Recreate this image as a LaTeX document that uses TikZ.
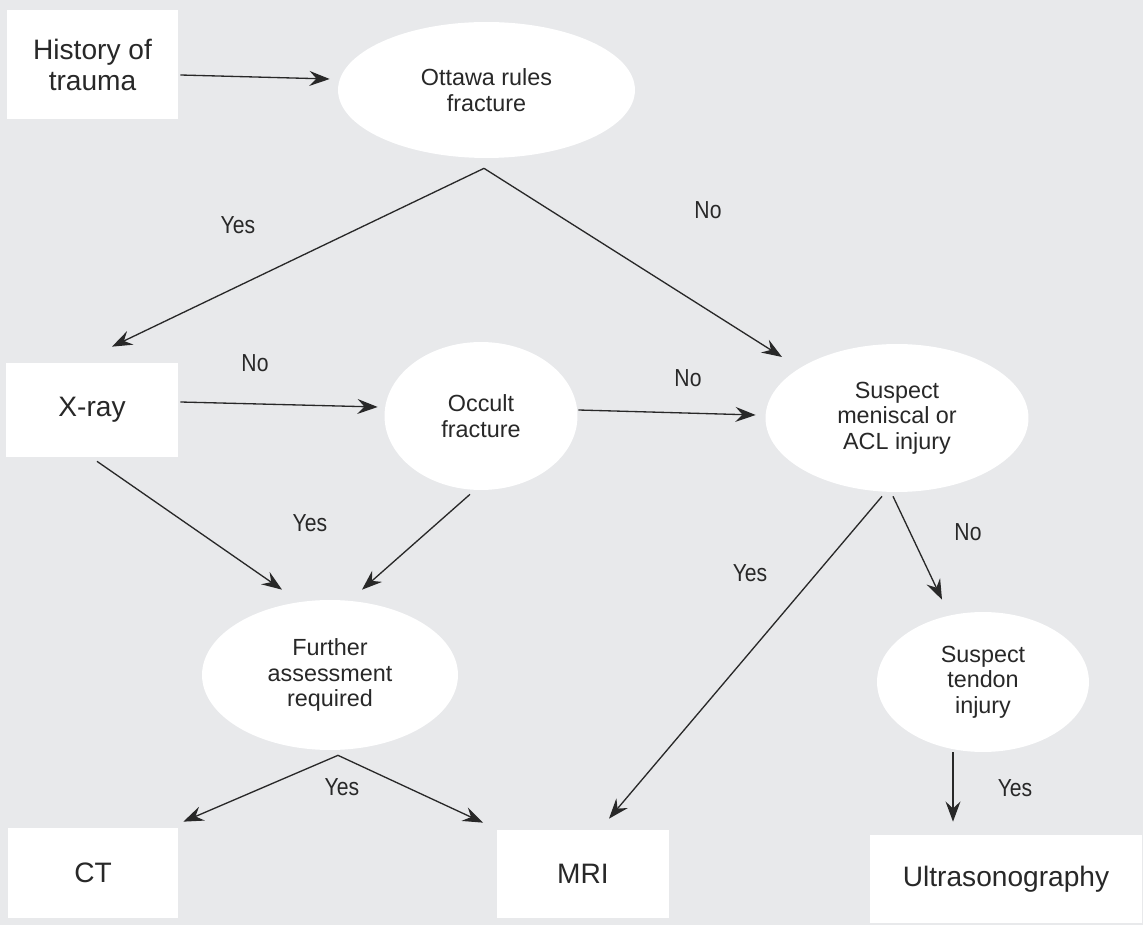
\documentclass[tikz,border=0pt]{standalone}
\usepackage{fontspec}
\setmainfont{Liberation Sans}
\newfontfamily\narrowfont[FakeStretch=0.86]{Liberation Sans}
\usepackage{xcolor}
\usepackage{tikz}
\usetikzlibrary{shapes.geometric,arrows.meta,positioning,calc}
\definecolor{panelgray}{RGB}{232,233,235}
\definecolor{inkgray}{RGB}{40,40,40}
\tikzset{
  stepbox/.style={rectangle, fill=white, minimum width=3.44cm, inner sep=0pt, align=center, text=inkgray, font=\fontsize{16}{17.6}\selectfont},
  question/.style={ellipse, fill=white, inner sep=0pt, align=center, text=inkgray, font=\fontsize{13.3}{14.5}\selectfont},
  answer/.style={text=inkgray, inner sep=0pt, font=\narrowfont\fontsize{14}{16}\selectfont},
  arrow/.style={-{Stealth[length=11.5pt, width=8.5pt, inset=4pt]}, draw=inkgray, line width=0.75pt},
}

\begin{document}
\begin{tikzpicture}[x=0.02cm, y=-0.02cm]
  % Background panel
  \fill[panelgray] (0,0) rectangle (1143,925);
  \useasboundingbox (0,0) rectangle (1143,925);

  % Rectangular steps
  \node[stepbox, minimum height=2.18cm] (hist) at (92.5,64.5) {History of\\trauma};
  \node[stepbox, minimum height=1.88cm] (xray) at (92,410) {X-ray};
  \node[stepbox, minimum width=3.4cm, minimum height=1.8cm] (ct) at (93,873) {CT};
  \node[stepbox, minimum height=1.78cm] (mri) at (583,874) {MRI};
  \node[stepbox, minimum width=5.44cm, minimum height=1.76cm] (us) at (1006,879) {Ultrasonography};

  % Questions
  \node[question, minimum width=5.94cm, minimum height=2.72cm] (ott) at (486.5,90) {Ottawa rules\\fracture};
  \node[question, minimum width=3.86cm, minimum height=2.96cm] (occ) at (481,416) {Occult\\fracture};
  \node[question, minimum width=5.26cm, minimum height=2.96cm] (susp) at (897,418) {Suspect\\meniscal or\\ACL injury};
  \node[question, minimum width=5.12cm, minimum height=3cm] (fur) at (330,675) {Further\\assessment\\required};
  \node[question, minimum width=4.24cm, minimum height=2.8cm] (tend) at (983,682) {Suspect\\tendon\\injury};

  % Connectors
  \draw[arrow] ($(hist.east)+(1.5,10.5)$) -- ($(ott.west)+(-8,-11)$);
  \draw[arrow] ($(ott.south)+(-2.5,10)$) -- ($(xray.north)+(20,-16)$);
  \draw[arrow] ($(ott.south)+(-2.5,10)$) -- ($(susp.center)+(-115,-61)$);
  \draw[arrow] ($(xray.east)+(2,-8)$) -- ($(occ.west)+(-6.5,-9)$);
  \draw[arrow] ($(occ.east)+(0.5,-6)$) -- ($(susp.west)+(-9.5,-3)$);
  \draw[arrow] ($(xray.south)+(5,4)$) -- ($(fur.north)+(-48,-10)$);
  \draw[arrow] ($(occ.south)+(-11,4)$) -- ($(fur.north)+(32,-10)$);
  \draw[arrow] ($(susp.south)+(-15,4)$) -- ($(mri.north)+(26,-10.5)$);
  \draw[arrow] ($(susp.south)+(-4,4)$) -- ($(tend.north)+(-41,-12)$);
  \draw[arrow] ($(fur.south)+(8,5)$) -- ($(ct.north east)+(5,-6)$);
  \draw[arrow] ($(fur.south)+(8,5)$) -- ($(mri.north)+(-100,-6.5)$);
  \draw[arrow] ($(tend.south)+(-30,0)$) -- ($(us.north)+(-53,-13)$);

  % Answers
  \node[answer] (yesott) at (238,225) {Yes};
  \node[answer] (noott) at (708,210) {No};
  \node[answer] (noxray) at (255,363) {No};
  \node[answer] (noocc) at (688,378) {No};
  \node[answer] (yesocc) at (310,523) {Yes};
  \node[answer] (yessusp) at (750,573) {Yes};
  \node[answer] (nosusp) at (968,532) {No};
  \node[answer] (yesfur) at (342,787) {Yes};
  \node[answer] (yestend) at (1015,788) {Yes};
\end{tikzpicture}
\end{document}
